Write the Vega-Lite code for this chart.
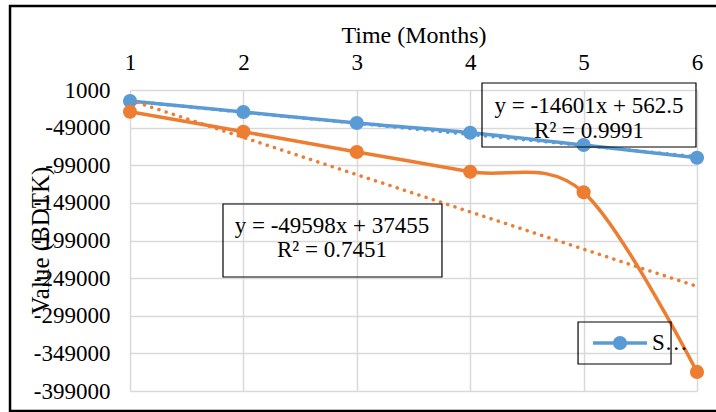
{
  "$schema": "https://vega.github.io/schema/vega-lite/v6.json",
  "width": 567,
  "height": 301,
  "autosize": {"type": "none"},
  "padding": {"left": 130, "top": 90, "right": 19, "bottom": 21},
  "background": "white",
  "config": {
    "view": {"stroke": null},
    "font": "Liberation Serif",
    "axis": {"labelFont": "Liberation Serif", "titleFont": "Liberation Serif", "labelColor": "black", "titleColor": "black", "titleFontWeight": "normal"}
  },
  "datasets": {
    "series": [
      {"month": 1, "value": -13600, "series": "S1"},
      {"month": 2, "value": -28260, "series": "S1"},
      {"month": 3, "value": -42900, "series": "S1"},
      {"month": 4, "value": -55800, "series": "S1"},
      {"month": 5, "value": -72100, "series": "S1"},
      {"month": 6, "value": -89000, "series": "S1"},
      {"month": 1, "value": -27900, "series": "S2"},
      {"month": 2, "value": -54450, "series": "S2"},
      {"month": 3, "value": -81400, "series": "S2"},
      {"month": 4, "value": -107600, "series": "S2"},
      {"month": 5, "value": -135000, "series": "S2"},
      {"month": 6, "value": -373600, "series": "S2"}
    ],
    "trends": [
      {"month": 1, "value": -13800, "series": "S1"},
      {"month": 6, "value": -87500, "series": "S1"},
      {"month": 1, "value": -12500, "series": "S2"},
      {"month": 6, "value": -260000, "series": "S2"}
    ],
    "frame": [
      {"x1": -0.058, "x2": 6.5, "y1": 112600, "y2": -425500}
    ],
    "boxes": [
      {"x1": 4.104, "x2": 5.991, "y1": 10300, "y2": -74750},
      {"x1": 1.82, "x2": 3.751, "y1": -150500, "y2": -247500},
      {"x1": 4.951, "x2": 5.771, "y1": -307300, "y2": -363100}
    ],
    "labels": [
      {"x": 5.048, "y": -29565, "text": "y = -14601x + 562.5"},
      {"x": 5.048, "y": -62787, "text": "R² = 0.9991"},
      {"x": 2.781, "y": -189033, "text": "y = -49598x + 37455"},
      {"x": 2.781, "y": -220927, "text": "R² = 0.7451"}
    ],
    "legend": [
      {"x1": 5.083, "x2": 5.559, "xp": 5.321, "y": -335213, "xt": 5.603, "yt": -344515, "text": "S…"}
    ]
  },
  "layer": [
    {
      "data": {"name": "series"},
      "mark": {"type": "line", "interpolate": "cardinal", "tension": 0, "strokeWidth": 3.5},
      "encoding": {
        "x": {
          "field": "month", "type": "quantitative",
          "scale": {"domain": [1, 6], "nice": false, "zero": false},
          "axis": {
            "orient": "top", "title": "Time (Months)", "values": [1, 2, 3, 4, 5, 6], "tickCount": 10,
            "labelExpr": "toString(datum.value)",
            "grid": true, "gridColor": "#d9d9d9", "gridWidth": 1.5,
            "domain": false, "ticks": false, "labelFontSize": 23, "titleFontSize": 24,
            "labelPadding": 16, "titlePadding": 4, "labelFlush": false, "labelOverlap": false
          }
        },
        "y": {
          "field": "value", "type": "quantitative",
          "scale": {"domain": [-399000, 1000], "nice": false, "zero": false},
          "axis": {
            "title": "Value (BDTK)",
            "values": [1000, -49000, -99000, -149000, -199000, -249000, -299000, -349000, -399000],
            "tickCount": 20,
            "labelExpr": "toString(datum.value)",
            "grid": true, "gridColor": "#d9d9d9", "gridWidth": 1.5,
            "domain": false, "ticks": false, "labelFontSize": 23, "titleFontSize": 25,
            "labelPadding": 20, "labelFlush": false, "labelOverlap": false, "labelBound": false,
            "titleAngle": -90, "titleAlign": "center", "titleBaseline": "middle",
            "titleX": -90, "titleY": 150
          }
        },
        "color": {"field": "series", "type": "nominal", "scale": {"domain": ["S1", "S2"], "range": ["#5B9BD5", "#ED7D31"]}, "legend": null}
      }
    },
    {
      "data": {"name": "trends"},
      "mark": {"type": "line", "strokeWidth": 3.5, "strokeDash": [0.1, 7.5], "strokeCap": "round"},
      "encoding": {
        "x": {"field": "month", "type": "quantitative"},
        "y": {"field": "value", "type": "quantitative"},
        "color": {"field": "series", "type": "nominal", "legend": null},
        "detail": {"field": "series"}
      }
    },
    {
      "data": {"name": "series"},
      "mark": {"type": "point", "shape": "circle", "filled": true, "opacity": 1, "size": 200},
      "encoding": {
        "x": {"field": "month", "type": "quantitative"},
        "y": {"field": "value", "type": "quantitative"},
        "color": {"field": "series", "type": "nominal", "legend": null}
      }
    },
    {
      "data": {"name": "frame"},
      "mark": {"type": "rect", "fill": null, "fillOpacity": 0, "stroke": "black", "strokeWidth": 2.5},
      "encoding": {
        "x": {"field": "x1", "type": "quantitative"},
        "x2": {"field": "x2"},
        "y": {"field": "y1", "type": "quantitative"},
        "y2": {"field": "y2"}
      }
    },
    {
      "data": {"name": "boxes"},
      "mark": {"type": "rect", "fill": null, "fillOpacity": 0, "stroke": "black", "strokeWidth": 1.2},
      "encoding": {
        "x": {"field": "x1", "type": "quantitative"},
        "x2": {"field": "x2"},
        "y": {"field": "y1", "type": "quantitative"},
        "y2": {"field": "y2"}
      }
    },
    {
      "data": {"name": "labels"},
      "mark": {"type": "text", "font": "Liberation Serif", "fontSize": 23, "align": "center", "baseline": "alphabetic", "color": "black"},
      "encoding": {
        "x": {"field": "x", "type": "quantitative"},
        "y": {"field": "y", "type": "quantitative"},
        "text": {"field": "text"}
      }
    },
    {
      "data": {"name": "legend"},
      "mark": {"type": "rule", "color": "#5B9BD5", "strokeWidth": 3.5},
      "encoding": {
        "x": {"field": "x1", "type": "quantitative"},
        "x2": {"field": "x2"},
        "y": {"field": "y", "type": "quantitative"}
      }
    },
    {
      "data": {"name": "legend"},
      "mark": {"type": "point", "shape": "circle", "filled": true, "opacity": 1, "size": 200, "color": "#5B9BD5"},
      "encoding": {
        "x": {"field": "xp", "type": "quantitative"},
        "y": {"field": "y", "type": "quantitative"}
      }
    },
    {
      "data": {"name": "legend"},
      "mark": {"type": "text", "font": "Liberation Serif", "fontSize": 23, "align": "left", "baseline": "alphabetic", "color": "black"},
      "encoding": {
        "x": {"field": "xt", "type": "quantitative"},
        "y": {"field": "yt", "type": "quantitative"},
        "text": {"field": "text"}
      }
    }
  ]
}
